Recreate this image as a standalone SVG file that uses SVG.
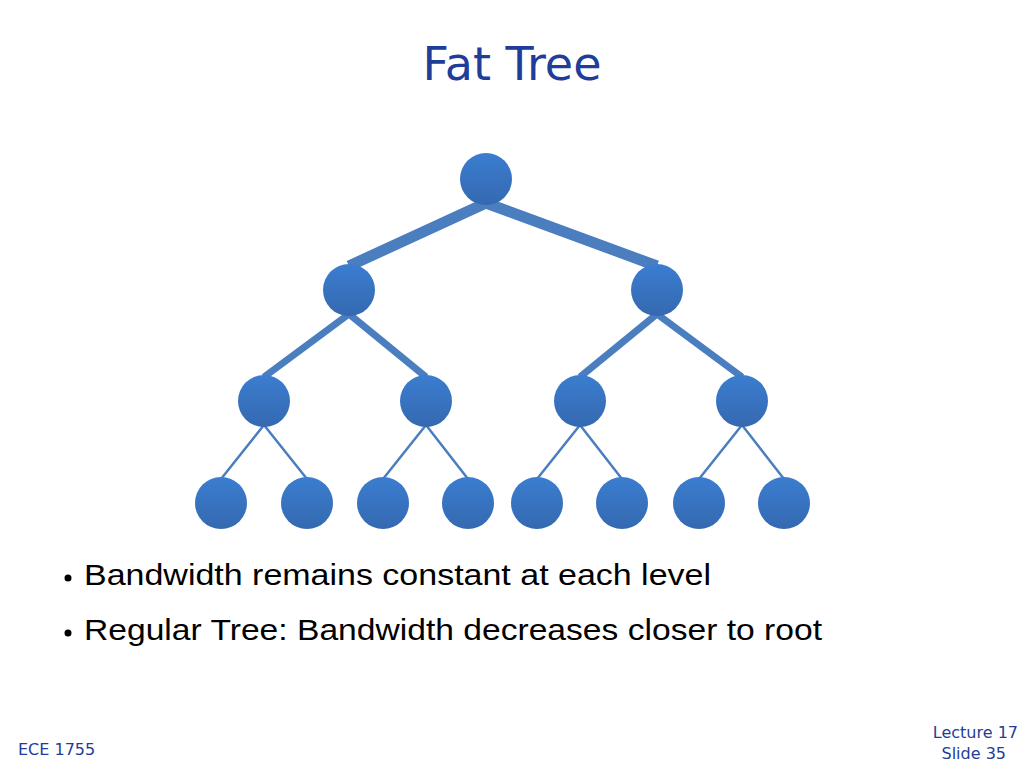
<svg xmlns="http://www.w3.org/2000/svg" width="1024" height="768" viewBox="0 0 1024 768">
<style>
.n{fill:url(#g)}
.t{font-family:"Liberation Sans",Arial,sans-serif;font-size:30px;fill:#000}
.f{font-family:"DejaVu Sans",sans-serif;fill:#1f3d99}
.e{stroke:#4a7ebf;stroke-linecap:butt}
</style>
<defs><linearGradient id="g" x1="0" y1="0" x2="0" y2="1"><stop offset="0" stop-color="#3b7dd0"/><stop offset="1" stop-color="#3469b0"/></linearGradient></defs>
<rect width="1024" height="768" fill="#fff"/>
<text class="f" x="512" y="80" font-size="46" text-anchor="middle">Fat Tree</text>
<g id="connectors">
<path class="e" stroke-width="11" d="M486 203L349 266M486 203L657 266"/>
<path class="e" stroke-width="7" d="M349 314L264 377M349 314L426 377M657 314L580 377M657 314L742 377"/>
<path class="e" stroke-width="2.5" d="M264 425L221 479M264 425L307 479M426 425L383 479M426 425L468 479M580 425L537 479M580 425L622 479M742 425L699 479M742 425L784 479"/>
</g>
<g id="root"><circle class="n" cx="486" cy="179" r="26"/></g>
<g id="l2a"><circle class="n" cx="349" cy="290" r="26"/></g>
<g id="l2b"><circle class="n" cx="657" cy="290" r="26"/></g>
<g id="l3a"><circle class="n" cx="264" cy="401" r="26"/></g>
<g id="l3b"><circle class="n" cx="426" cy="401" r="26"/></g>
<g id="l3c"><circle class="n" cx="580" cy="401" r="26"/></g>
<g id="l3d"><circle class="n" cx="742" cy="401" r="26"/></g>
<g id="leaf1"><circle class="n" cx="221" cy="503" r="26"/></g>
<g id="leaf2"><circle class="n" cx="307" cy="503" r="26"/></g>
<g id="leaf3"><circle class="n" cx="383" cy="503" r="26"/></g>
<g id="leaf4"><circle class="n" cx="468" cy="503" r="26"/></g>
<g id="leaf5"><circle class="n" cx="537" cy="503" r="26"/></g>
<g id="leaf6"><circle class="n" cx="622" cy="503" r="26"/></g>
<g id="leaf7"><circle class="n" cx="699" cy="503" r="26"/></g>
<g id="leaf8"><circle class="n" cx="784" cy="503" r="26"/></g>
<circle cx="68" cy="578" r="3.5" fill="#000"/>
<text class="t" x="84" y="585" textLength="627" lengthAdjust="spacingAndGlyphs">Bandwidth remains constant at each level</text>
<circle cx="68" cy="633" r="3.5" fill="#000"/>
<text class="t" x="84" y="640" textLength="738" lengthAdjust="spacingAndGlyphs">Regular Tree: Bandwidth decreases closer to root</text>
<text class="f" x="18" y="755" font-size="16">ECE 1755</text>
<text class="f" x="1018" y="738" font-size="16" text-anchor="end">Lecture 17</text>
<text class="f" x="1006" y="759" font-size="16" text-anchor="end">Slide 35</text>
</svg>
